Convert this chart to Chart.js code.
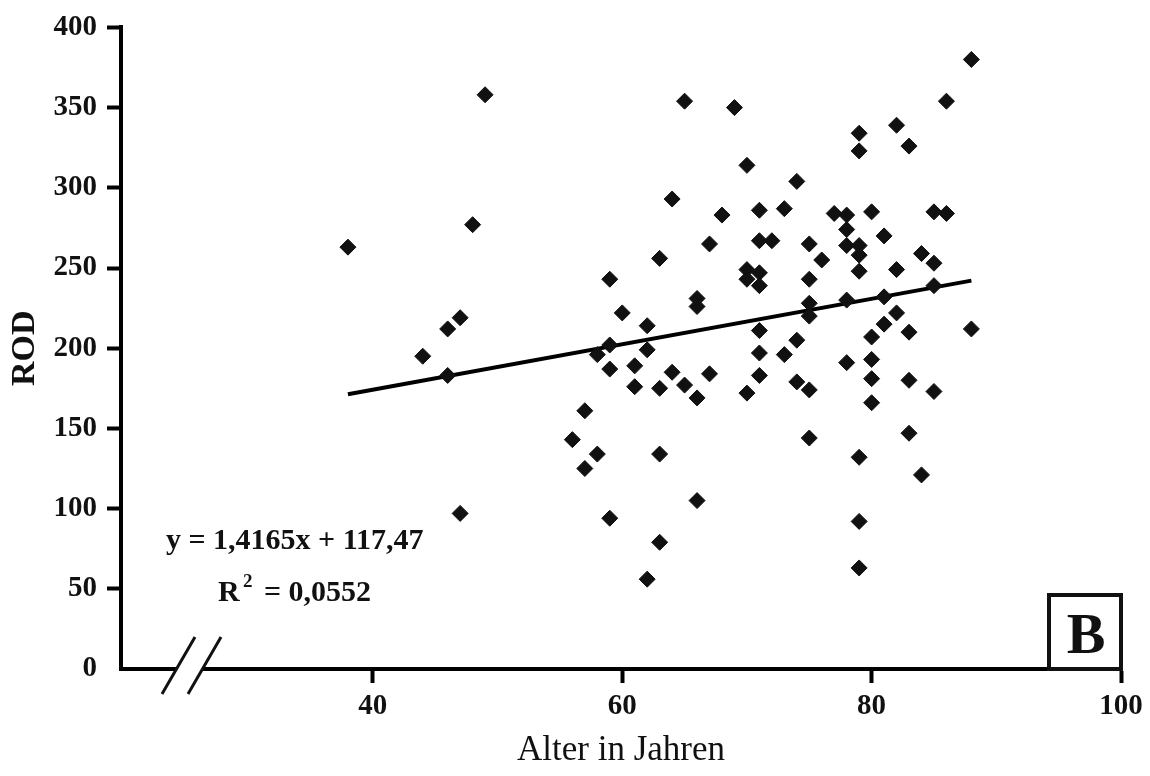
<!DOCTYPE html>
<html>
<head>
<meta charset="utf-8">
<script src="https://cdn.jsdelivr.net/npm/chart.js@4/dist/chart.umd.min.js"></script>
<style>
  html, body { margin: 0; padding: 0; background: #fff; }
  #wrap { width: 1150px; height: 776px; }
</style>
</head>
<body>
<div id="wrap"><canvas id="myChart" width="1150" height="776"></canvas></div>
<script>
// Alter (Jahre) und ROD je Patient
const ages = [38,44,46,46,47,47,48,49,56,57,57,58,58,59,59,59,59,60,61,61,62,62,62,63,63,63,63,64,64,65,65,66,66,66,66,67,67,68,69,70,70,70,70,71,71,71,71,71,71,71,72,73,73,74,74,74,75,75,75,75,75,75,76,77,78,78,78,78,78,79,79,79,79,79,79,79,79,80,80,80,80,80,81,81,81,82,82,82,83,83,83,83,84,84,85,85,85,85,86,86,88,88];
const rod = [263,195,212,183,219,97,277,358,143,161,125,196,134,243,202,187,94,222,189,176,214,199,56,256,175,134,79,293,185,354,177,231,226,169,105,265,184,283,350,314,249,243,172,286,267,247,239,211,197,183,267,287,196,304,205,179,265,243,228,220,174,144,255,284,283,274,264,230,191,334,323,264,258,248,132,92,63,285,207,193,181,166,270,232,215,339,249,222,326,210,180,147,259,121,285,253,239,173,354,284,380,212];

// Regressionsgerade (aus der Gleichung im Bild)
const slope = 1.4165;
const intercept = 117.47;
const lineX = [38, 88];

const xTicks = [40, 60, 80, 100];
const yTicks = [0, 50, 100, 150, 200, 250, 300, 350, 400];

const eqText = "y = 1,4165x + 117,47";
const r2Value = "= 0,0552";
const panelLabel = "B";

const serif = "'Liberation Serif', 'Times New Roman', serif";

let points = [];
for (let i = 0; i < ages.length; i++) {
    points.push({x: ages[i], y: rod[i]});
}
let linePts = lineX.map(function(x){ return {x: x, y: slope * x + intercept}; });

// Beschriftungen, Achsenbruch und Kasten "B"
const extras = {
    id: "extras",
    afterDraw: function(chart) {
        const ctx = chart.ctx;
        const area = chart.chartArea;
        ctx.save();
        ctx.fillStyle = "#111";
        ctx.textBaseline = "alphabetic";
        ctx.textAlign = "left";
        ctx.font = "bold 30px " + serif;
        ctx.fillText(eqText, 166, 549);

        ctx.fillText("R", 218, 601);
        ctx.font = "bold 19px " + serif;
        ctx.fillText("2", 243, 587);
        ctx.font = "bold 30px " + serif;
        ctx.fillText(r2Value, 264, 601);

        // Achsenbruch
        const yb = area.bottom;
        ctx.fillStyle = "#fff";
        ctx.fillRect(177, yb - 4, 26, 8);
        ctx.strokeStyle = "#111";
        ctx.lineWidth = 3;
        ctx.beginPath();
        ctx.moveTo(162, yb + 25); ctx.lineTo(195, yb - 32);
        ctx.moveTo(188, yb + 25); ctx.lineTo(221, yb - 32);
        ctx.stroke();

        // Kasten B
        ctx.lineWidth = 4;
        ctx.strokeRect(area.right - 72, yb - 74, 72, 74);
        ctx.fillStyle = "#111";
        ctx.font = "bold 58px " + serif;
        ctx.textAlign = "center";
        ctx.fillText(panelLabel, area.right - 35, yb - 16);
        ctx.restore();
    }
};

new Chart(document.getElementById("myChart"), {
    type: "scatter",
    data: {
        datasets: [
            {
                label: "ROD",
                data: points,
                pointStyle: "rectRot",
                pointRadius: 8,
                pointHoverRadius: 8,
                backgroundColor: "#111",
                borderColor: "#111",
                borderWidth: 1,
                order: 0
            },
            {
                type: "line",
                label: "Regression",
                data: linePts,
                borderColor: "#000",
                borderWidth: 4,
                pointRadius: 0,
                fill: false,
                order: 1
            }
        ]
    },
    options: {
        responsive: false,
        animation: false,
        events: [],
        layout: { padding: { top: 24, right: 29, left: 0, bottom: 0 } },
        plugins: { legend: { display: false }, tooltip: { enabled: false } },
        scales: {
            x: {
                type: "linear",
                min: 19.8,
                max: 100,
                afterBuildTicks: function(scale) {
                    scale.ticks = xTicks.map(function(v){ return {value: v}; });
                },
                afterFit: function(scale) { scale.height = 107; },
                border: { display: true, width: 4, color: "#000" },
                grid: { display: true, drawOnChartArea: false, drawTicks: true, tickLength: 14, tickWidth: 4, tickColor: "#000" },
                ticks: { color: "#111", padding: 6, font: { family: serif, size: 29, weight: "bold" } },
                title: { display: true, text: "Alter in Jahren", color: "#111", padding: { top: 0, bottom: 4 }, font: { family: serif, size: 35 } }
            },
            y: {
                type: "linear",
                min: 0,
                max: 400,
                afterBuildTicks: function(scale) {
                    scale.ticks = yTicks.map(function(v){ return {value: v}; });
                },
                afterFit: function(scale) { scale.width = 121; },
                border: { display: true, width: 4, color: "#000" },
                grid: {
                    display: true, drawOnChartArea: false, drawTicks: true, tickLength: 14, tickWidth: 4,
                    tickColor: function(c){ return c.tick && c.tick.value === 0 ? "rgba(0,0,0,0)" : "#000"; }
                },
                ticks: { color: "#111", padding: 10, font: { family: serif, size: 29, weight: "bold" } },
                title: { display: true, text: "ROD", color: "#111", padding: { top: 5, bottom: 0 }, font: { family: serif, size: 34, weight: "bold" } }
            }
        }
    },
    plugins: [extras]
});
</script>
</body>
</html>
